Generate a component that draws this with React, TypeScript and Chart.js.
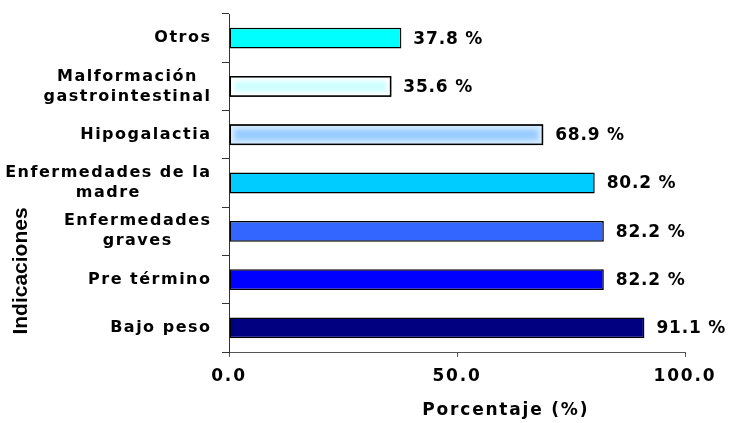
import React, { useEffect, useRef } from "react";
import { Chart, registerables } from "chart.js";

Chart.register(...registerables);

const categories: (string | string[])[] = [
  "Otros",
  ["Malformación", "gastrointestinal"],
  "Hipogalactia",
  ["Enfermedades de la", "madre"],
  ["Enfermedades", "graves"],
  "Pre término",
  "Bajo peso",
];
const values: number[] = [37.8, 35.6, 68.9, 80.2, 82.2, 82.2, 91.1];
const barColors: string[] = ["#00FFFF", "#CCFFFF", "#99CCFF", "#00CCFF", "#3366FF", "#0000FF", "#000080"];
const barEdgeColors: (string | null)[] = [null, "#FFFFFF", "#D6ECFF", null, null, null, null];
const xTicks: number[] = [0, 50, 100];
const xTitle = "Porcentaje (%)";
const yTitle = "Indicaciones";

const FONT = "'DejaVu Sans', 'Liberation Sans', Arial, sans-serif";

const spacingPlugin = {
  id: "spacing",
  beforeUpdate(chart: any) {
    chart.ctx.letterSpacing = "1.8px";
  },
  beforeDraw(chart: any) {
    chart.ctx.letterSpacing = "1.8px";
  },
};

const glowPlugin = {
  id: "barGlow",
  afterDatasetDraw(chart: any) {
    const ctx = chart.ctx;
    const meta = chart.getDatasetMeta(0);
    meta.data.forEach((bar: any, i: number) => {
      const edge = barEdgeColors[i];
      if (!edge) return;
      const l = Math.min(bar.base, bar.x);
      const r = Math.max(bar.base, bar.x);
      const t = bar.y - bar.height / 2;
      const h = bar.height;
      ctx.save();
      ctx.beginPath();
      ctx.rect(l + 1, t + 1, r - l - 2, h - 2);
      ctx.clip();
      ctx.fillStyle = edge;
      ctx.fillRect(l, t, r - l, h);
      ctx.filter = "blur(2px)";
      ctx.fillStyle = barColors[i];
      ctx.fillRect(l + 5, t + 5, r - l - 10, h - 10);
      ctx.restore();
      ctx.save();
      ctx.strokeStyle = "#000";
      ctx.lineWidth = 1.5;
      ctx.strokeRect(l + 0.75, t + 0.75, r - l - 1.5, h - 1.5);
      ctx.restore();
    });
  },
};

const yLabelPlugin = {
  id: "yLabels",
  afterDraw(chart: any) {
    const ctx = chart.ctx;
    const scale = chart.scales.y;
    const ls = 1.5;
    ctx.save();
    ctx.font = `bold 16px ${FONT}`;
    ctx.fillStyle = "#000";
    ctx.textAlign = "left";
    ctx.textBaseline = "middle";
    const right = scale.right - 19;
    const measure = (s: string) => {
      ctx.letterSpacing = "0px";
      return ctx.measureText(s).width + ls * (s.length - 1);
    };
    categories.forEach((lab, i) => {
      const lines = Array.isArray(lab) ? lab : [lab];
      const widths = lines.map((l) => measure(l));
      const widest = Math.max(...widths);
      const cx = right - widest / 2;
      const y = scale.getPixelForTick(i);
      const lh = 20;
      ctx.letterSpacing = `${ls}px`;
      lines.forEach((l, j) => {
        ctx.fillText(l, cx - widths[j] / 2, y + (j - (lines.length - 1) / 2) * lh);
      });
    });
    ctx.restore();
  },
};

const valueLabelPlugin = {
  id: "valueLabels",
  afterDatasetsDraw(chart: any) {
    const ctx = chart.ctx;
    const meta = chart.getDatasetMeta(0);
    ctx.save();
    ctx.letterSpacing = "0.8px";
    ctx.font = `bold 17px ${FONT}`;
    ctx.fillStyle = "#000";
    ctx.textAlign = "left";
    ctx.textBaseline = "middle";
    meta.data.forEach((bar: any, i: number) => {
      ctx.fillText(`${values[i].toFixed(1)} %`, bar.x + 12, bar.y + 1);
    });
    ctx.restore();
  },
};

const titlePlugin = {
  id: "axisTitles",
  afterDraw(chart: any) {
    const ctx = chart.ctx;
    const area = chart.chartArea;
    ctx.save();
    ctx.fillStyle = "#000";
    ctx.textAlign = "left";
    ctx.textBaseline = "middle";
    ctx.font = `bold 17px ${FONT}`;
    ctx.letterSpacing = "0px";
    const ls = 1.8;
    const w = ctx.measureText(xTitle).width + ls * (xTitle.length - 1);
    ctx.letterSpacing = `${ls}px`;
    ctx.fillText(xTitle, area.left + (area.right - area.left) * 0.605 - w / 2, chart.height - 12);
    ctx.letterSpacing = "0px";
    ctx.textAlign = "center";
    ctx.font = `bold 21px 'Liberation Sans', Arial, sans-serif`;
    ctx.translate(21, (area.top + area.bottom) / 2 + 88);
    ctx.rotate(-Math.PI / 2);
    ctx.fillText(yTitle, 0, 0);
    ctx.restore();
  },
};

export default function App() {
  const ref = useRef<HTMLCanvasElement | null>(null);
  useEffect(() => {
    if (!ref.current) return;
    const chart = new Chart(ref.current, {
      type: "bar",
      data: {
        labels: categories as any,
        datasets: [
          {
            data: values,
            backgroundColor: barColors,
            borderColor: "#000",
            borderWidth: 1.5,
            borderSkipped: false,
            barPercentage: 0.43,
            categoryPercentage: 1,
          },
        ],
      },
      options: {
        indexAxis: "y",
        animation: false,
        responsive: true,
        maintainAspectRatio: false,
        layout: { padding: { left: 0, top: 14, right: 51, bottom: 0 } },
        plugins: { legend: { display: false }, tooltip: { enabled: false } },
        scales: {
          x: {
            min: 0,
            max: 100,
            afterBuildTicks(scale: any) {
              scale.ticks = xTicks.map((v) => ({ value: v }));
            },
            afterFit(scale: any) {
              scale.height = 71;
            },
            grid: {
              display: true,
              drawOnChartArea: false,
              color: "#555",
              tickLength: 5,
            },
            border: { color: "#555", width: 1 },
            ticks: {
              color: "#000",
              padding: 9,
              maxRotation: 0,
              font: { family: FONT, weight: "bold", size: 17 },
              callback: (v: any) => Number(v).toFixed(1),
            },
          },
          y: {
            offset: true,
            afterFit(scale: any) {
              scale.width = 229;
            },
            grid: {
              display: true,
              drawOnChartArea: false,
              color: "#333",
              tickLength: 7,
              offset: true,
            },
            border: { color: "#333", width: 1 },
            ticks: { display: false },
          },
        },
      },
      plugins: [spacingPlugin, glowPlugin, yLabelPlugin, valueLabelPlugin, titlePlugin],
    });
    return () => chart.destroy();
  }, []);
  return (
    <div style={{ position: "fixed", left: 0, top: 0, width: 736, height: 423, background: "#fff" }}>
      <canvas ref={ref} />
    </div>
  );
}
